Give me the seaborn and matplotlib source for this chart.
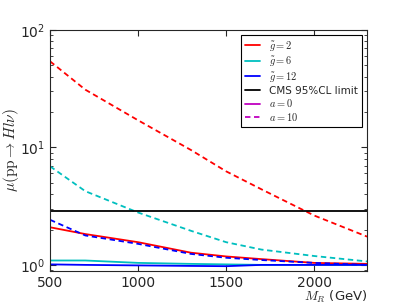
import numpy as np
import pandas as pd
import matplotlib
matplotlib.use('Agg')
import matplotlib.pyplot as plt
import seaborn as sns

## ============================================================= ##

mass = [500, 700, 1000, 1300, 1500, 1700, 2000, 2300]

mu_g2_a0 = [2.09, 1.83, 1.56, 1.27, 1.18, 1.12, 1.04, 1.02]
mu_g6_a0 = [1.09, 1.09, 1.04, 1.02, 1.01, 1.00, 1.00, 1.00]
mu_g12_a0 = [1.01, 1.00, 0.99, 0.98, 0.975, 1.00, 1.00, 1.00]

mu_g2_a10 = [54., 31., 17., 9.5, 6.25, 4.4, 2.63, 1.74]
mu_g6_a10 = [6.9, 4.24, 2.79, 1.95, 1.56, 1.35, 1.19, 1.07]
mu_g12_a10 = [2.42, 1.78, 1.51, 1.24, 1.15, 1.10, 1.04, 1.00]

cms_limit = 2.88

## ============================================================= ##

sns.set_style('ticks', {'xtick.direction': 'in', 'ytick.direction': 'in',
                        'xtick.top': True, 'ytick.right': True})
plt.rcParams['font.family'] = ['DejaVu Sans']
plt.rcParams['mathtext.fontset'] = 'cm'
plt.rcParams['mathtext.default'] = 'it'

DASH = (3, 2)

fig, ax = plt.subplots(figsize=(4.07, 3.05), dpi=100)

series = [
    (mu_g2_a0, 'r', False), (mu_g6_a0, 'c', False), (mu_g12_a0, 'b', False),
    (mu_g2_a10, 'r', True), (mu_g6_a10, 'c', True), (mu_g12_a10, 'b', True),
]
for vals, col, dashed in series:
    l = sns.lineplot(x=mass, y=vals, color=col, lw=1.3, ax=ax).lines[-1]
    if dashed:
        l.set_dashes(DASH)

ax.axhline(cms_limit, color='k', lw=1.3)

ax.set_yscale('log')
ax.set_xlim(500, 2300)
ax.set_ylim(0.89, 100)
ax.set_xticks([500, 1000, 1500, 2000])
ax.tick_params(labelsize=10, which='both', length=4)
ax.tick_params(which='minor', length=2)
ax.set_xlabel(r'$M_R$ (GeV)', fontsize=9.5, loc='right', labelpad=-0.5)
ax.set_ylabel(r'$\mu(\mathrm{pp}\rightarrow H l\nu)$', fontsize=11, labelpad=-1)

handles = [
    plt.Line2D([], [], color='r', lw=1.3),
    plt.Line2D([], [], color='c', lw=1.3),
    plt.Line2D([], [], color='b', lw=1.3),
    plt.Line2D([], [], color='k', lw=1.3),
    plt.Line2D([], [], color='m', lw=1.3),
    plt.Line2D([], [], color='m', lw=1.3, dashes=DASH),
]
labels = [r'$\tilde{g}=2$', r'$\tilde{g}=6$', r'$\tilde{g}=12$',
          'CMS 95%CL limit', r'$a=0$', r'$a=10$']
leg = ax.legend(handles, labels, loc='upper right', fontsize=7.5, frameon=True,
                fancybox=False, edgecolor='k', framealpha=1, handlelength=1.4,
                handletextpad=0.9, borderaxespad=0.45, labelspacing=0.16,
                borderpad=0.4)
leg.get_frame().set_linewidth(0.8)

fig.subplots_adjust(left=0.123, right=0.902, top=0.902, bottom=0.112)
fig.savefig('out.png', dpi=100)
